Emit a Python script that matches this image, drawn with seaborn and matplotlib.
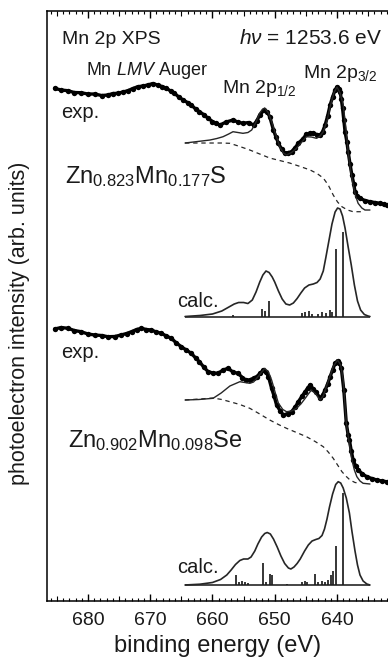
import numpy as np
import pandas as pd
import matplotlib
matplotlib.use("Agg")
import matplotlib.pyplot as plt
import seaborn as sns
from matplotlib.ticker import MultipleLocator, FormatStrFormatter

# ---- Zn0.823Mn0.177S : experiment (dots), fit (solid), background (dashed)
exp_S_E = [685.35, 684.3, 683.2, 682.2, 681.1, 680.0, 678.9, 677.8, 676.8, 676.0, 675.2, 674.4,
           673.6, 672.8, 672.0, 671.2, 670.4, 669.6, 668.8, 668.1, 667.4, 666.7, 666.1, 665.4,
           664.7, 664.0, 663.4, 662.7, 662.1, 661.4, 660.7, 660.0, 659.4, 658.8, 657.8, 656.7,
           655.9, 655.1, 654.2, 653.4, 652.9, 652.4, 651.7, 651.2, 650.8, 650.2, 649.8, 649.4,
           648.9, 648.4, 647.8, 647.3, 646.7, 646.2, 645.5, 644.9, 644.3, 643.8, 643.2, 642.7,
           642.3, 641.9, 641.5, 641.1, 640.7, 640.3, 640.0, 639.7, 639.5, 639.3, 639.1, 638.9,
           638.7, 638.4, 638.2, 637.9, 637.6, 637.3, 637.1, 636.7, 636.3, 635.5, 634.7, 633.9,
           633.1, 632.5, 632.0]
exp_S_I = [512.7, 511.0, 510.3, 508.5, 508.3, 507.0, 507.0, 505.5, 506.0, 507.5, 507.7, 509.0,
           510.3, 512.5, 514.3, 515.0, 516.0, 517.5, 516.0, 514.5, 512.7, 510.0, 507.7, 504.0,
           501.0, 498.5, 496.0, 492.0, 489.3, 486.5, 482.7, 479.5, 477.7, 476.0, 479.0, 481.0,
           479.0, 477.7, 478.5, 476.0, 480.0, 486.0, 491.0, 489.0, 484.3, 471.0, 464.0, 457.7,
           452.0, 447.7, 448.5, 449.3, 453.5, 457.7, 462.0, 466.7, 468.0, 467.7, 466.5, 466.0,
           469.5, 476.0, 485.0, 496.0, 504.0, 511.0, 514.0, 512.0, 509.3, 502.0, 492.7, 481.0,
           469.3, 459.0, 449.3, 437.0, 426.0, 417.0, 409.3, 405.0, 402.7, 400.5, 399.3, 398.5,
           397.7, 397.0, 396.0]

fit_S_E = [664.4, 662.4, 660.4, 659.3, 658.3, 657.4, 656.7, 655.9, 655.1, 654.3, 653.7, 653.0,
           652.4, 652.0, 651.6, 651.0, 650.5, 649.8, 649.2, 648.6, 648.1, 647.3, 646.5, 645.7,
           644.9, 644.1, 643.3, 642.7, 642.2, 641.6, 641.1, 640.5, 640.0, 639.5, 639.0, 638.6,
           638.2, 637.8, 637.4, 637.0, 636.6, 636.0, 635.5, 634.7]
fit_S_I = [458.0, 459.5, 461.0, 462.5, 464.3, 467.0, 469.3, 468.5, 467.7, 468.5, 471.0, 479.0,
           488.0, 491.5, 493.0, 488.0, 479.3, 466.0, 454.3, 448.0, 446.0, 448.5, 452.7, 458.5,
           464.3, 464.0, 462.7, 465.0, 469.3, 480.0, 494.3, 508.0, 514.0, 508.0, 496.0, 475.0,
           449.3, 430.0, 416.0, 405.0, 397.7, 393.0, 391.0, 391.0]

bg_S_E = [664.4, 662.0, 659.9, 658.5, 657.2, 655.6, 654.0, 652.4, 650.8, 649.2, 647.6, 645.9,
          644.3, 643.2, 642.2, 641.4, 640.6, 639.9, 639.2, 638.3, 637.4, 636.5, 635.8]
bg_S_I = [458.0, 458.0, 458.0, 458.0, 457.7, 454.5, 451.0, 447.0, 443.0, 440.5, 438.0, 434.5,
          431.0, 427.5, 423.0, 416.0, 406.0, 399.0, 394.3, 391.0, 389.3, 389.3, 389.3]

# calculated spectrum (broadened curve + line spectrum), baseline offset
calc_S_base = 284
calc_S_E = [664.4, 662.0, 660.0, 658.5, 657.5, 656.5, 655.8, 655.0, 654.3, 653.6, 653.0, 652.4,
            651.9, 651.4, 650.9, 650.4, 650.0, 649.4, 648.8, 648.2, 647.6, 647.0, 646.4, 645.8,
            645.2, 644.5, 643.8, 643.2, 642.7, 642.2, 641.8, 641.3, 640.8, 640.3, 639.9, 639.5,
            639.1, 638.7, 638.2, 637.7, 637.2, 636.7, 636.2, 635.6, 635.0, 634.7]
calc_S_I = [284.5, 285.5, 287.0, 290.0, 293.5, 297.0, 298.5, 298.5, 297.5, 301.0, 309.0, 319.0,
            326.0, 330.0, 328.5, 324.0, 319.0, 310.0, 302.0, 297.0, 296.0, 298.0, 302.5, 308.0,
            313.0, 316.0, 317.0, 318.5, 322.0, 330.0, 343.0, 360.0, 377.0, 389.0, 393.0, 392.0,
            385.0, 373.0, 354.0, 336.0, 316.0, 300.0, 291.0, 286.5, 285.0, 284.5]
stick_S_E = [656.7, 652.0, 651.6, 650.9, 645.6, 645.1, 644.5, 644.0, 643.1, 642.4, 641.8,
             641.1, 640.8, 640.2, 639.1]
stick_S_H = [2, 8, 6, 16, 4, 5, 6, 3, 3, 5, 4, 7, 5, 68, 85]

# ---- Zn0.902Mn0.098Se
exp_Se_E = [685.35, 684.3, 683.2, 682.2, 681.1, 680.0, 678.9, 677.8, 676.8, 675.7, 674.7, 673.8,
            673.0, 672.2, 671.4, 670.6, 669.8, 669.0, 668.2, 667.4, 666.6, 665.8, 665.0, 664.2,
            663.4, 662.7, 662.1, 661.4, 660.7, 659.9, 659.1, 658.3, 657.5, 656.7, 655.9, 655.2,
            654.6, 654.0, 653.4, 652.9, 652.3, 651.8, 651.4, 651.0, 650.5, 650.1, 649.7, 649.1,
            648.6, 647.9, 647.3, 646.7, 646.2, 645.6, 645.1, 644.7, 644.3, 643.8, 643.4, 642.7,
            642.3, 641.9, 641.5, 641.1, 640.7, 640.3, 639.9, 639.6, 639.3, 638.9, 638.5, 638.2,
            638.0, 637.7, 637.4, 637.0, 636.6, 635.9, 635.2, 634.4, 633.6, 632.8, 632.0]
exp_Se_I = [272.0, 273.5, 272.7, 270.5, 269.3, 267.0, 266.0, 265.5, 264.3, 264.5, 266.0, 267.5,
            269.3, 271.5, 272.7, 271.5, 271.0, 269.0, 267.7, 265.0, 262.7, 258.0, 254.3, 251.0,
            247.7, 243.0, 239.3, 234.0, 229.3, 228.0, 227.7, 231.0, 232.7, 229.0, 227.7, 223.5,
            221.0, 221.0, 223.0, 224.3, 228.0, 231.0, 229.0, 224.3, 212.7, 205.0, 196.0, 190.0,
            186.0, 187.5, 189.3, 194.0, 199.3, 205.0, 209.3, 213.0, 216.0, 212.0, 209.3, 202.7,
            206.0, 211.0, 217.0, 224.3, 231.0, 237.7, 240.3, 238.0, 232.7, 211.0, 177.7, 166.0,
            161.0, 150.0, 141.0, 135.0, 131.0, 127.0, 124.3, 122.5, 121.0, 120.0, 119.3]

fit_Se_E = [664.4, 662.2, 659.9, 658.6, 657.2, 655.6, 654.0, 653.4, 652.9, 652.2, 651.6, 651.0,
            650.5, 649.9, 649.4, 648.7, 648.1, 647.3, 646.5, 645.8, 645.1, 644.6, 644.1, 643.4,
            642.7, 642.2, 641.7, 641.1, 640.6, 639.9, 639.4, 639.0, 638.5, 638.0, 637.6, 637.2,
            636.8, 636.3, 635.8, 634.7]
fit_Se_I = [201.0, 201.5, 202.7, 208.0, 215.0, 219.3, 217.7, 219.0, 222.7, 228.0, 232.7, 229.0,
            221.0, 208.0, 197.7, 191.5, 189.3, 190.0, 192.7, 197.0, 202.7, 207.0, 211.0, 207.0,
            201.0, 205.0, 214.3, 225.0, 234.3, 241.0, 236.0, 221.0, 178.0, 157.0, 141.0, 131.0,
            124.3, 120.0, 117.7, 117.0]

bg_Se_E = [664.4, 662.0, 659.9, 658.5, 657.2, 655.6, 654.0, 652.4, 650.8, 649.4, 648.1, 646.5,
           644.9, 643.5, 642.2, 641.4, 640.6, 639.9, 639.2, 638.5, 637.9, 637.1, 636.3]
bg_Se_I = [201.0, 202.0, 203.0, 201.5, 199.3, 196.5, 192.7, 187.0, 181.0, 176.5, 172.7, 168.5,
           164.3, 159.5, 154.3, 149.0, 142.7, 136.0, 129.3, 124.5, 121.0, 118.5, 117.7]

calc_Se_base = 16
calc_Se_E = [664.4, 662.0, 660.0, 658.7, 657.7, 657.0, 656.3, 655.6, 655.0, 654.3, 653.8, 653.2,
             652.7, 652.1, 651.6, 651.2, 650.7, 650.2, 649.6, 649.0, 648.4, 647.8, 647.4, 646.9,
             646.4, 645.9, 645.2, 644.6, 644.0, 643.4, 642.9, 642.4, 642.0, 641.6, 641.2, 640.7,
             640.2, 639.8, 639.4, 639.0, 638.5, 638.0, 637.6, 637.1, 636.7, 636.3, 635.8, 635.2,
             634.7]
calc_Se_I = [16.0, 16.8, 18.5, 21.5, 26.0, 31.0, 36.5, 40.5, 42.0, 42.0, 44.0, 50.0,
             57.0, 64.0, 67.5, 68.5, 67.0, 62.0, 54.0, 45.0, 37.5, 33.0, 32.0, 34.0,
             37.5, 42.0, 50.0, 56.0, 60.0, 61.5, 62.5, 65.5, 72.0, 82.0, 94.0, 107.0,
             116.5, 119.3, 118.0, 113.0, 103.0, 88.0, 70.0, 50.0, 36.0, 26.0, 20.0, 17.0,
             16.0]
stick_Se_E = [656.2, 655.8, 655.3, 654.8, 654.3, 651.8, 651.4, 650.8, 650.5, 648.0, 645.6,
              645.2, 644.8, 643.5, 643.0, 642.4, 641.9, 641.4, 640.9, 640.6, 640.1, 639.1]
stick_Se_H = [10, 3, 4, 3, 2, 21.7, 3, 11, 10, 1, 3, 4, 3, 11, 2.5, 4, 3, 5, 10, 14, 39, 92]

x_ticks = [680, 670, 660, 650, 640]

sns.set_theme(style="ticks")
plt.rcParams["font.family"] = ["Liberation Sans", "DejaVu Sans"]
plt.rcParams["mathtext.fontset"] = "custom"
plt.rcParams["mathtext.rm"] = "Liberation Sans"
plt.rcParams["mathtext.it"] = "Liberation Sans:italic"
plt.rcParams["mathtext.bf"] = "Liberation Sans:bold"

line_col = "#262626"
txt_col = "#1a1a1a"

fig = plt.figure(figsize=(3.88, 6.60), dpi=100)
ax = fig.add_axes([0.1224, 0.0894, 0.8776, 0.8939])


def draw_panel(exp_E, exp_I, fit_E, fit_I, bg_E, bg_I, calc_E, calc_I, st_E, st_H, base):
    sns.lineplot(x=exp_E, y=exp_I, ax=ax, color="black", lw=2.4, sort=False, estimator=None)
    sns.scatterplot(x=exp_E, y=exp_I, ax=ax, color="black", s=15, linewidth=0)
    sns.lineplot(x=fit_E, y=fit_I, ax=ax, color=line_col, lw=1.0, sort=False, estimator=None)
    sns.lineplot(x=bg_E, y=bg_I, ax=ax, color=line_col, lw=0.9, sort=False, estimator=None,
                 linestyle=(0, (3.5, 3)))
    sns.lineplot(x=calc_E, y=calc_I, ax=ax, color=line_col, lw=1.2, sort=False, estimator=None)
    ax.hlines(base, min(calc_E), max(calc_E), color=line_col, lw=1.2)
    ax.vlines(st_E, base, np.array(st_H) + base, color="#1e1e1e", lw=1.25)


draw_panel(exp_S_E, exp_S_I, fit_S_E, fit_S_I, bg_S_E, bg_S_I,
           calc_S_E, calc_S_I, stick_S_E, stick_S_H, calc_S_base)
draw_panel(exp_Se_E, exp_Se_I, fit_Se_E, fit_Se_I, bg_Se_E, bg_Se_I,
           calc_Se_E, calc_Se_I, stick_Se_E, stick_Se_H, calc_Se_base)

ax.set_xlim(686.5, 631.8)
ax.set_ylim(0, 590)

# labels
fs = 14
ax.text(684.2, 557, "Mn 2p XPS", fontsize=fs, va="baseline", color=txt_col)
ax.text(632.7, 557, r"$h\nu$ = 1253.6 eV", fontsize=15, va="baseline", ha="right", color=txt_col)
ax.text(680.3, 526, r"Mn $\mathit{LMV}$ Auger", fontsize=13, va="baseline", color=txt_col)
ax.text(658.5, 508, r"Mn 2p$_{1/2}$", fontsize=fs, va="baseline", color=txt_col)
ax.text(645.5, 523, r"Mn 2p$_{3/2}$", fontsize=fs, va="baseline", color=txt_col)
ax.text(684.3, 483, "exp.", fontsize=14.5, va="baseline", color=txt_col)
ax.text(683.7, 418, r"Zn$_{0.823}$Mn$_{0.177}$S", fontsize=17, va="baseline", color=txt_col)
ax.text(665.7, 294, "calc.", fontsize=14.5, va="baseline", color=txt_col)
ax.text(684.3, 243, "exp.", fontsize=14.5, va="baseline", color=txt_col)
ax.text(683.2, 154, r"Zn$_{0.902}$Mn$_{0.098}$Se", fontsize=17, va="baseline", color=txt_col)
ax.text(665.7, 28, "calc.", fontsize=14.5, va="baseline", color=txt_col)

ax.set_xlabel("binding energy (eV)", fontsize=17, labelpad=4, color=txt_col)
ax.set_ylabel("photoelectron intensity (arb. units)", fontsize=15.5, color=txt_col)
ax.yaxis.set_label_coords(-0.05, 0.47)

ax.xaxis.set_major_locator(MultipleLocator(10))
ax.xaxis.set_minor_locator(MultipleLocator(1))
ax.set_xticks(x_ticks)
ax.xaxis.set_major_formatter(FormatStrFormatter("%d"))
ax.set_yticks([])
ax.tick_params(axis="x", which="major", direction="in", length=5, width=1.0,
               top=True, bottom=True, labelsize=14, pad=8, color="black", labelcolor=txt_col)
ax.tick_params(axis="x", which="minor", direction="in", length=2.2, width=0.8,
               top=True, bottom=True, color="black")
for side in ["left", "bottom", "top"]:
    ax.spines[side].set_linewidth(1.1)
    ax.spines[side].set_color("black")
ax.spines["right"].set_visible(False)

# 5 eV ticks a little longer than the 1 eV ones
fig.canvas.draw()
for tick, loc in zip(ax.xaxis.get_minor_ticks(), ax.xaxis.get_minorticklocs()):
    if abs(round(loc) % 5) < 1e-6:
        tick.tick1line.set_markersize(3.6)
        tick.tick2line.set_markersize(3.6)

fig.savefig("out.png", dpi=100)
